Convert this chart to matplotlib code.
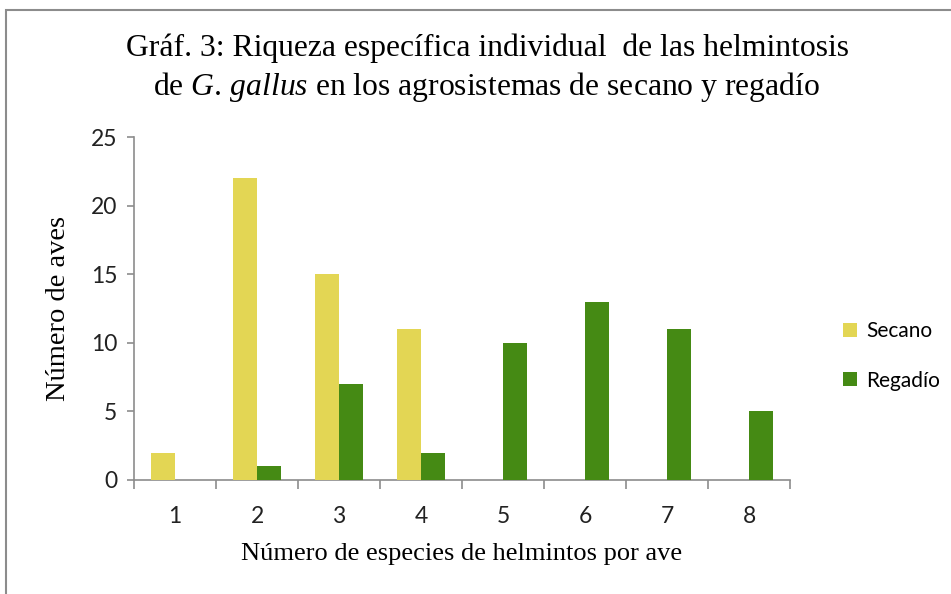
import numpy as np
import matplotlib.pyplot as plt
from matplotlib.patches import Rectangle
from matplotlib.ticker import FixedLocator

plt.rcParams['mathtext.fontset'] = 'custom'
plt.rcParams['mathtext.rm'] = 'Liberation Serif'
plt.rcParams['mathtext.it'] = 'Liberation Serif:italic'

# data
categories = ['1', '2', '3', '4', '5', '6', '7', '8']
secano = [2, 22, 15, 11, 0, 0, 0, 0]
regadio = [0, 1, 7, 2, 10, 13, 11, 5]

yellow = '#E3D654'
green = '#458A14'
axis_grey = '#8C8C8C'

fig = plt.figure(figsize=(9.51, 5.94), dpi=100)
ax = fig.add_axes([134 / 951, 114 / 594, 656 / 951, 343 / 594])

x = np.arange(len(categories))
w = 0.29
ax.bar(x - w / 2, secano, width=w, color=yellow, label='Secano', zorder=3)
ax.bar(x + w / 2, regadio, width=w, color=green, label='Regadío', zorder=3)

ax.set_xlim(-0.5, len(categories) - 0.5)
ax.set_ylim(0, 25)
ax.set_yticks([0, 5, 10, 15, 20, 25])
ax.set_xticks(x)
ax.set_xticklabels(categories)
ax.xaxis.set_minor_locator(FixedLocator(np.arange(-0.5, len(categories), 1)))

for s in ['top', 'right']:
    ax.spines[s].set_visible(False)
for s in ['left', 'bottom']:
    ax.spines[s].set_color(axis_grey)
    ax.spines[s].set_linewidth(1.2)

ax.tick_params(axis='x', which='major', length=0, pad=19, labelsize=16.5, labelcolor='#222222')
ax.tick_params(axis='x', which='minor', length=6.5, color=axis_grey, width=1.2)
ax.tick_params(axis='y', length=5, color=axis_grey, width=1.2, pad=7, labelsize=16.5, labelcolor='#222222')
for lab in ax.get_xticklabels() + ax.get_yticklabels():
    lab.set_family('Lato')

ax.set_xlabel('Número de especies de helmintos por ave', family='Liberation Serif', fontsize=19, labelpad=11)
ax.set_ylabel('Número de aves', family='Liberation Serif', fontsize=20.5, labelpad=14)

# title with italic species name
fig.text(487 / 951, 1 - 48 / 594, 'Gráf. 3: Riqueza específica individual  de las helmintosis',
         ha='center', va='center', family='Liberation Serif', fontsize=22.8)
fig.text(487 / 951, 1 - 87 / 594, r'de $\it{G.\,gallus}$ en los agrosistemas de secano y regadío',
         ha='center', va='center', family='Liberation Serif', fontsize=22.8)

leg = fig.legend(loc='center left', bbox_to_anchor=(824 / 951, 1 - 356 / 594), frameon=False,
                 prop={'family': 'Lato', 'size': 15}, handlelength=0.66, handleheight=0.66,
                 handletextpad=0.45, labelspacing=1.4)

# outer frame of the chart area
fig.patches.append(Rectangle((6 / 951, -0.1), 1.1, 1 - 10 / 594 + 0.1, transform=fig.transFigure,
                             fill=False, edgecolor='#8C8C8C', linewidth=1.5))

fig.savefig('out.png', dpi=100)
